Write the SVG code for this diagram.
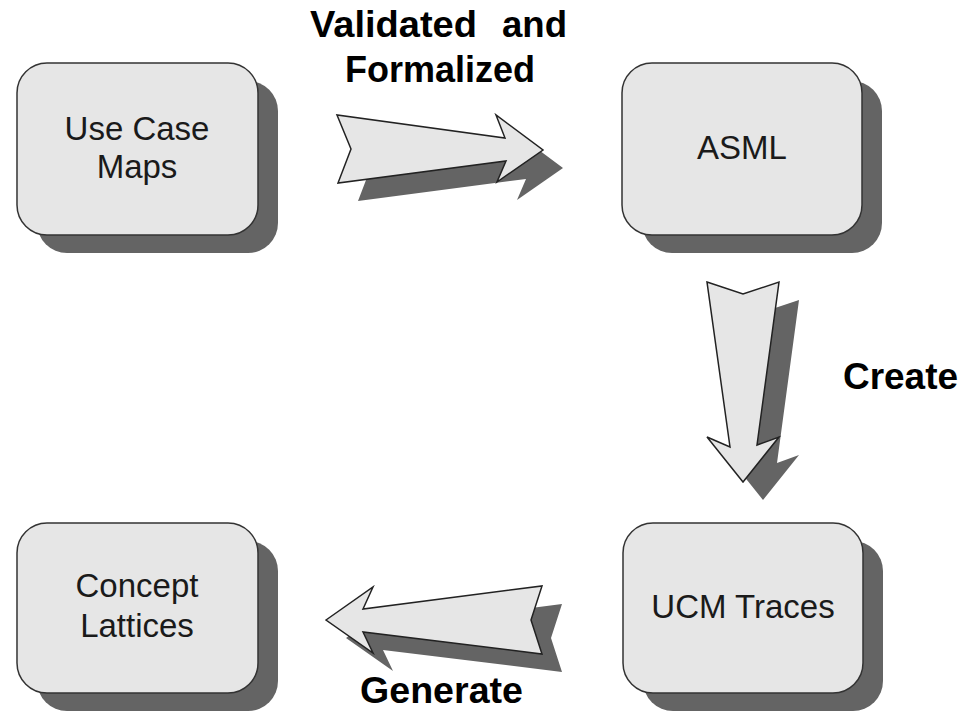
<svg xmlns="http://www.w3.org/2000/svg" width="961" height="713" viewBox="0 0 961 713">
<style>
.sh{fill:#646464;stroke:none}
.bx{fill:#e6e6e6;stroke:#333;stroke-width:1.5}
.ar{fill:#e6e6e6;stroke:#222;stroke-width:1.5;stroke-linejoin:miter}
.lb{font-family:"Liberation Sans",Arial,sans-serif;font-size:33px;fill:#1a1a1a;text-anchor:middle}
.bl{font-family:"Liberation Sans",Arial,sans-serif;font-size:36px;font-weight:bold;fill:#000}
</style>
<rect width="961" height="713" fill="#fff"/>
<g id="connectors">
<g id="arrow-validated">
<polygon class="sh" transform="translate(20,18)" points="337,115 351,149 338,183 506,161 497,182 543,150 496,115 505,138"/>
<polygon class="ar" points="337,115 351,149 338,183 506,161 497,182 543,150 496,115 505,138"/>
</g>
<g id="arrow-create">
<polygon class="sh" transform="translate(20,18)" points="707,282 743,294 779,282 757,445 779,437 743,482 707,437 730,447"/>
<polygon class="ar" points="707,282 743,294 779,282 757,445 779,437 743,482 707,437 730,447"/>
</g>
<g id="arrow-generate">
<polygon class="sh" transform="translate(20,18)" points="326,620 373,587 363,609 542,586 531,620 542,654 363,632 373,653"/>
<polygon class="ar" points="326,620 373,587 363,609 542,586 531,620 542,654 363,632 373,653"/>
</g>
<text class="bl" x="310" y="37" textLength="167" lengthAdjust="spacingAndGlyphs">Validated</text>
<text class="bl" x="502" y="37" textLength="65" lengthAdjust="spacingAndGlyphs">and</text>
<text class="bl" x="345" y="82" textLength="190" lengthAdjust="spacingAndGlyphs">Formalized</text>
<text class="bl" x="843" y="389" textLength="115" lengthAdjust="spacingAndGlyphs">Create</text>
<text class="bl" x="360" y="703" textLength="163" lengthAdjust="spacingAndGlyphs">Generate</text>
</g>
<g id="node-ucm">
<rect class="sh" x="37" y="81" width="241" height="172" rx="30"/>
<rect class="bx" x="17" y="63" width="241" height="172" rx="30"/>
<text class="lb" x="137" y="140">Use Case</text>
<text class="lb" x="137" y="178">Maps</text>
</g>
<g id="node-asml">
<rect class="sh" x="642" y="81" width="240" height="172" rx="30"/>
<rect class="bx" x="622" y="63" width="240" height="172" rx="30"/>
<text class="lb" x="742" y="159">ASML</text>
</g>
<g id="node-traces">
<rect class="sh" x="643" y="541" width="240" height="170" rx="30"/>
<rect class="bx" x="623" y="523" width="240" height="170" rx="30"/>
<text class="lb" x="743" y="618">UCM Traces</text>
</g>
<g id="node-lattices">
<rect class="sh" x="37" y="541" width="241" height="170" rx="30"/>
<rect class="bx" x="17" y="523" width="241" height="170" rx="30"/>
<text class="lb" x="137" y="597">Concept</text>
<text class="lb" x="137" y="637">Lattices</text>
</g>
</svg>
